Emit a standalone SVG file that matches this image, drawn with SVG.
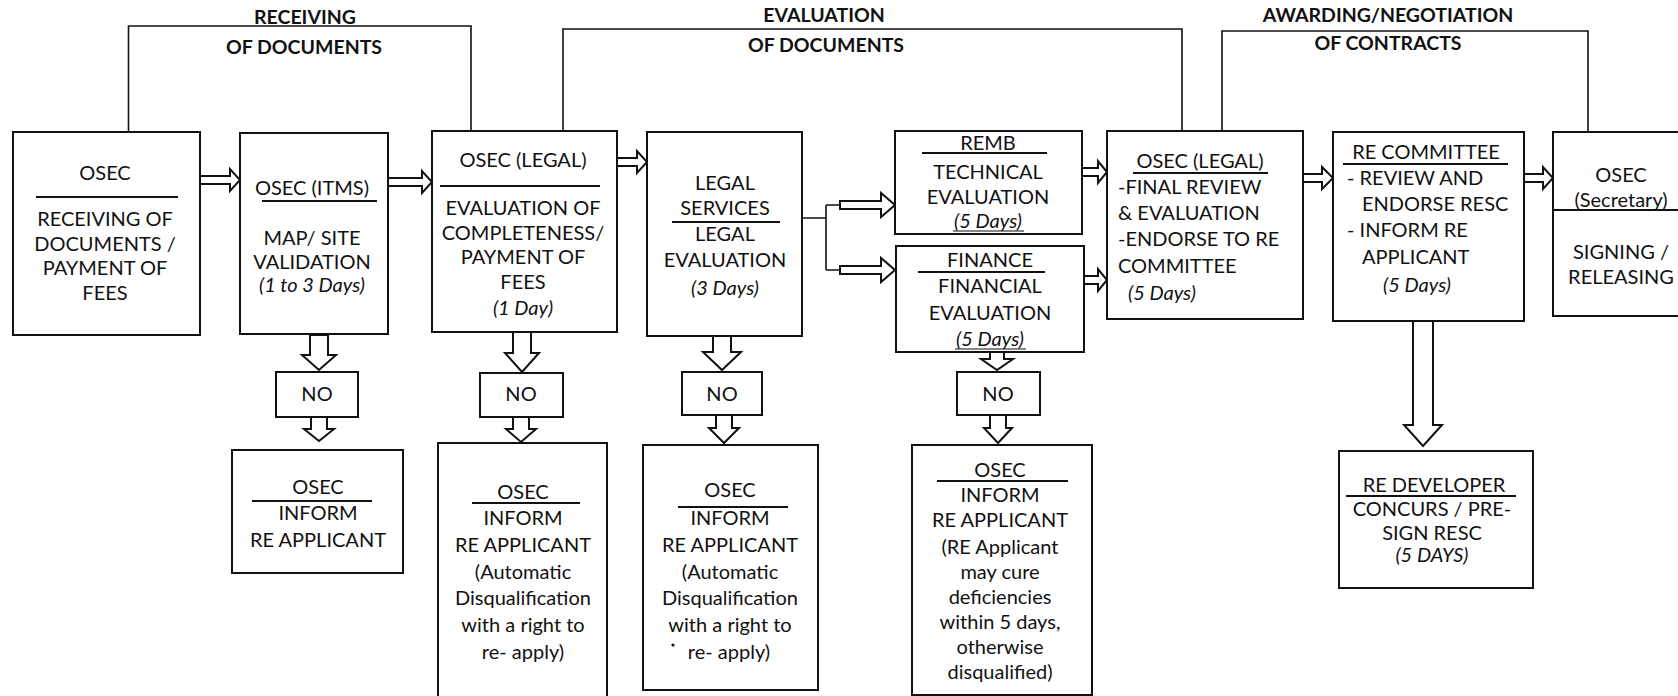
<svg xmlns="http://www.w3.org/2000/svg" width="1678" height="696" viewBox="0 0 1678 696">
<style>
.bg{fill:#fff}
.box{fill:#fff;stroke:#111;stroke-width:2}
.t{font-family:Lato,"Open Sans",sans-serif;font-size:20px;fill:#111;text-anchor:middle}
.l{text-anchor:start}
.i{font-style:italic}
.h{font-weight:bold;font-size:19.5px}
.sep{stroke:#111;stroke-width:1.8}
.ul{stroke:#111;stroke-width:1.2}
.arr{fill:#fff;stroke:#111;stroke-width:2;stroke-linejoin:miter}
.br{fill:none;stroke:#111;stroke-width:1.6}
.ln{fill:none;stroke:#111;stroke-width:1.6}
</style>
<rect class="bg" x="0" y="0" width="1678" height="696"/>

<g id="phases">
  <path class="br" d="M128.5,132 V26 H471 V131"/>
  <text class="t h" x="305" y="24">RECEIVING</text>
  <text class="t h" x="304" y="54">OF DOCUMENTS</text>
  <path class="br" d="M563,131 V29 H1182 V131"/>
  <text class="t h" x="824" y="22">EVALUATION</text>
  <text class="t h" x="826" y="52">OF DOCUMENTS</text>
  <path class="br" d="M1222,131 V31 H1588 V132"/>
  <text class="t h" x="1388" y="22">AWARDING/NEGOTIATION</text>
  <text class="t h" x="1388" y="50">OF CONTRACTS</text>
</g>

<g id="connectors">
  <path class="arr" d="M200,176 H230 V169 L240,180 L230,191 V184 H200 Z"/>
  <path class="arr" d="M388,178 H422 V171 L432,182 L422,193 V186 H388 Z"/>
  <path class="arr" d="M617,158 H637 V151 L647,162 L637,173 V166 H617 Z"/>
  <path class="ln" d="M802,218 H826 M826,205 V270 M826,205 H840 M826,270 H840"/>
  <path class="arr" d="M840,201 H881 V193 L895,205 L881,217 V209 H840 Z"/>
  <path class="arr" d="M840,266 H881 V258 L895,270 L881,282 V274 H840 Z"/>
  <path class="arr" d="M1082,168 H1098 V161 L1107,172 L1098,183 V176 H1082 Z"/>
  <path class="arr" d="M1084,276 H1098 V269 L1107,280 L1098,291 V284 H1084 Z"/>
  <path class="arr" d="M1303,174 H1322 V167 L1333,178 L1322,189 V182 H1303 Z"/>
  <path class="arr" d="M1524,174 H1543 V167 L1553,178 L1543,189 V182 H1524 Z"/>
  <path class="arr" d="M310,335 V355 H302 L319,370 L336,355 H328 V335 Z"/>
  <path class="arr" d="M311,417 V429 H304 L319,441 L334,429 H327 V417 Z"/>
  <path class="arr" d="M513,332 V353 H505 L522,372 L539,353 H531 V332 Z"/>
  <path class="arr" d="M513,417 V429 H506 L521,442 L536,429 H529 V417 Z"/>
  <path class="arr" d="M713,336 V352 H703 L722,370 L741,352 H731 V336 Z"/>
  <path class="arr" d="M716,415 V428 H709 L724,443 L739,428 H732 V415 Z"/>
  <path class="arr" d="M990,352 V359 H981 L997,370 L1013,359 H1004 V352 Z"/>
  <path class="arr" d="M990,415 V428 H984 L998,443 L1012,428 H1006 V415 Z"/>
  <path class="arr" d="M1413,321 V425 H1404 L1423,446 L1442,425 H1433 V321 Z"/>
</g>

<g id="n-osec-receiving">
  <rect class="box" x="13" y="132" width="187" height="203"/>
  <text class="t" x="105" y="180">OSEC</text>
  <line class="sep" x1="36" y1="197" x2="178" y2="197"/>
  <text class="t" x="105" y="226">RECEIVING OF</text>
  <text class="t" x="105" y="251">DOCUMENTS /</text>
  <text class="t" x="105" y="275">PAYMENT OF</text>
  <text class="t" x="105" y="300">FEES</text>
</g>

<g id="n-osec-itms">
  <rect class="box" x="240" y="133" width="148" height="201"/>
  <text class="t" x="312" y="195">OSEC (ITMS)</text>
  <line class="sep" x1="262" y1="201" x2="377" y2="201"/>
  <text class="t" x="312" y="245">MAP/ SITE</text>
  <text class="t" x="312" y="269">VALIDATION</text>
  <text class="t i" x="312" y="292">(1 to 3 Days)</text>
</g>

<g id="n-osec-legal-1">
  <rect class="box" x="432" y="131" width="185" height="201"/>
  <text class="t" x="523" y="167">OSEC (LEGAL)</text>
  <line class="sep" x1="440" y1="186" x2="600" y2="186"/>
  <text class="t" x="523" y="215">EVALUATION OF</text>
  <text class="t" x="523" y="240">COMPLETENESS/</text>
  <text class="t" x="523" y="264">PAYMENT OF</text>
  <text class="t" x="523" y="289">FEES</text>
  <text class="t i" x="523" y="315">(1 Day)</text>
</g>

<g id="n-legal-services">
  <rect class="box" x="647" y="132" width="155" height="204"/>
  <text class="t" x="725" y="190">LEGAL</text>
  <text class="t" x="725" y="215">SERVICES</text>
  <line class="sep" x1="672" y1="222" x2="780" y2="222"/>
  <text class="t" x="725" y="241">LEGAL</text>
  <text class="t" x="725" y="267">EVALUATION</text>
  <text class="t i" x="725" y="295">(3 Days)</text>
</g>

<g id="n-remb">
  <rect class="box" x="895" y="131" width="187" height="103"/>
  <text class="t" x="988" y="150">REMB</text>
  <line class="sep" x1="922" y1="153" x2="1047" y2="153"/>
  <text class="t" x="988" y="179">TECHNICAL</text>
  <text class="t" x="988" y="204">EVALUATION</text>
  <text class="t i" x="988" y="228">(5 Days)</text>
  <line class="ul" x1="953" y1="231" x2="1024" y2="231"/>
</g>

<g id="n-finance">
  <rect class="box" x="896" y="246" width="188" height="106"/>
  <text class="t" x="990" y="267">FINANCE</text>
  <line class="sep" x1="918" y1="272" x2="1045" y2="272"/>
  <text class="t" x="990" y="293">FINANCIAL</text>
  <text class="t" x="990" y="320">EVALUATION</text>
  <text class="t i" x="990" y="346">(5 Days)</text>
  <line class="ul" x1="955" y1="349" x2="1026" y2="349"/>
</g>

<g id="n-osec-legal-2">
  <rect class="box" x="1107" y="131" width="196" height="188"/>
  <text class="t" x="1200" y="168">OSEC (LEGAL)</text>
  <line class="sep" x1="1133" y1="173" x2="1268" y2="173"/>
  <text class="t l" x="1118" y="194">-FINAL REVIEW</text>
  <text class="t l" x="1118" y="220">&amp; EVALUATION</text>
  <text class="t l" x="1118" y="246">-ENDORSE TO RE</text>
  <text class="t l" x="1118" y="273">COMMITTEE</text>
  <text class="t l i" x="1128" y="300">(5 Days)</text>
</g>

<g id="n-re-committee">
  <rect class="box" x="1333" y="132" width="191" height="189"/>
  <text class="t" x="1426" y="159">RE COMMITTEE</text>
  <line class="sep" x1="1343" y1="164" x2="1508" y2="164"/>
  <text class="t l" x="1347" y="185">- REVIEW AND</text>
  <text class="t l" x="1362" y="211">ENDORSE RESC</text>
  <text class="t l" x="1347" y="237">- INFORM RE</text>
  <text class="t l" x="1362" y="264">APPLICANT</text>
  <text class="t i" x="1417" y="292">(5 Days)</text>
</g>

<g id="n-osec-secretary">
  <rect class="box" x="1553" y="132" width="140" height="184"/>
  <text class="t" x="1621" y="182">OSEC</text>
  <text class="t" x="1621" y="207">(Secretary)</text>
  <line class="sep" x1="1553" y1="210" x2="1678" y2="210"/>
  <text class="t" x="1621" y="259">SIGNING /</text>
  <text class="t" x="1621" y="284">RELEASING</text>
</g>

<g id="n-no-1">
  <rect class="box" x="276" y="372" width="82" height="45"/>
  <text class="t" x="317" y="401">NO</text>
</g>
<g id="n-no-2">
  <rect class="box" x="480" y="373" width="83" height="44"/>
  <text class="t" x="521" y="401">NO</text>
</g>
<g id="n-no-3">
  <rect class="box" x="682" y="372" width="80" height="43"/>
  <text class="t" x="722" y="401">NO</text>
</g>
<g id="n-no-4">
  <rect class="box" x="957" y="372" width="83" height="43"/>
  <text class="t" x="998" y="401">NO</text>
</g>

<g id="n-inform-1">
  <rect class="box" x="232" y="450" width="171" height="123"/>
  <text class="t" x="318" y="494">OSEC</text>
  <line class="sep" x1="252" y1="501" x2="372" y2="501"/>
  <text class="t" x="318" y="520">INFORM</text>
  <text class="t" x="318" y="547">RE APPLICANT</text>
</g>

<g id="n-inform-2">
  <rect class="box" x="438" y="443" width="169" height="270"/>
  <text class="t" x="523" y="499">OSEC</text>
  <line class="sep" x1="472" y1="503" x2="580" y2="503"/>
  <text class="t" x="523" y="525">INFORM</text>
  <text class="t" x="523" y="552">RE APPLICANT</text>
  <text class="t" x="523" y="579">(Automatic</text>
  <text class="t" x="523" y="605">Disqualification</text>
  <text class="t" x="523" y="632">with a right to</text>
  <text class="t" x="523" y="659">re- apply)</text>
</g>

<g id="n-inform-3">
  <rect class="box" x="643" y="445" width="175" height="245"/>
  <text class="t" x="730" y="497">OSEC</text>
  <line class="sep" x1="678" y1="507" x2="788" y2="507"/>
  <text class="t" x="730" y="525">INFORM</text>
  <text class="t" x="730" y="552">RE APPLICANT</text>
  <text class="t" x="730" y="579">(Automatic</text>
  <text class="t" x="730" y="605">Disqualification</text>
  <text class="t" x="730" y="632">with a right to</text>
  <circle cx="673" cy="645" r="1.6" fill="#111"/>
  <text class="t" x="729" y="659">re- apply)</text>
</g>

<g id="n-inform-4">
  <rect class="box" x="912" y="445" width="180" height="250"/>
  <text class="t" x="1000" y="477">OSEC</text>
  <line class="sep" x1="937" y1="481" x2="1068" y2="481"/>
  <text class="t" x="1000" y="502">INFORM</text>
  <text class="t" x="1000" y="527">RE APPLICANT</text>
  <text class="t" x="1000" y="554">(RE Applicant</text>
  <text class="t" x="1000" y="579">may cure</text>
  <text class="t" x="1000" y="604">deficiencies</text>
  <text class="t" x="1000" y="629">within 5 days,</text>
  <text class="t" x="1000" y="654">otherwise</text>
  <text class="t" x="1000" y="679">disqualified)</text>
</g>

<g id="n-re-developer">
  <rect class="box" x="1339" y="451" width="194" height="137"/>
  <text class="t" x="1434" y="492">RE DEVELOPER</text>
  <line class="sep" x1="1346" y1="496" x2="1516" y2="496"/>
  <text class="t" x="1432" y="516">CONCURS / PRE-</text>
  <text class="t" x="1432" y="540">SIGN RESC</text>
  <text class="t i" x="1432" y="562">(5 DAYS)</text>
</g>
</svg>
